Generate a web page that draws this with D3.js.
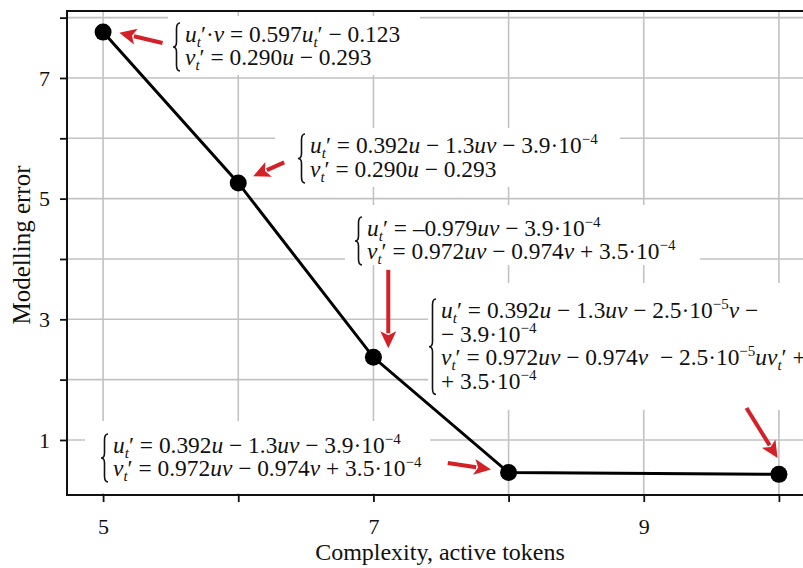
<!DOCTYPE html>
<html>
<head>
<meta charset="utf-8">
<script src="https://cdn.jsdelivr.net/npm/d3@7"></script>
<style>
  body { margin: 0; background: #fff; }
  svg { display: block; overflow: hidden; }
  text { font-family: "Liberation Serif", "Times New Roman", serif; fill: #111; }
</style>
</head>
<body>
<svg id="chart" width="803" height="568"></svg>
<script>
// data
var tokens = [5, 6, 7, 8, 10];
var errors = [7.76, 5.26, 2.37, 0.46, 0.43];
var xTicks = [5, 6, 7, 8, 9, 10];
var yTicks = [1, 2, 3, 4, 5, 6, 7, 8];
var xTickLabels = ["5", "", "7", "", "9", ""];
var yTickLabels = ["1", "", "3", "", "5", "", "7", ""];

// equations found for each complexity (markup: _{sub}, ^{sup})
var eqA = ["u_{t}′·v = 0.597u_{t}′ − 0.123", "v_{t}′ = 0.290u − 0.293"];
var eqB = ["u_{t}′ = 0.392u − 1.3uv − 3.9·10^{−4}", "v_{t}′ = 0.290u − 0.293"];
var eqC = ["u_{t}′ = –0.979uv − 3.9·10^{−4}", "v_{t}′ = 0.972uv − 0.974v + 3.5·10^{−4}"];
var eqD = ["u_{t}′ = 0.392u − 1.3uv − 2.5·10^{−5}v −", "− 3.9·10^{−4}",
           "v_{t}′ = 0.972uv − 0.974v  − 2.5·10^{−5}uv_{t}′ +", "+ 3.5·10^{−4}"];
var eqE = ["u_{t}′ = 0.392u − 1.3uv − 3.9·10^{−4}", "v_{t}′ = 0.972uv − 0.974v + 3.5·10^{−4}"];

// arrows, tail -> tip, in data units
var arrows = [
  {x0: 5.44, y0: 7.58, x1: 5.12, y1: 7.75},
  {x0: 6.34, y0: 5.60, x1: 6.11, y1: 5.37},
  {x0: 7.11, y0: 3.82, x1: 7.11, y1: 2.52},
  {x0: 7.55, y0: 0.62, x1: 7.87, y1: 0.51},
  {x0: 9.76, y0: 1.53, x1: 9.99, y1: 0.70}
];

// label layout (pixels): box, text start, first baseline, line step
var labels = [
  {eq: eqA, box: [168, 16, 252, 59], tx: 185, ty: 42, step: 23},
  {eq: eqB, box: [275, 128, 345, 59], tx: 310, ty: 153, step: 24},
  {eq: eqC, box: [345, 205, 355, 60], tx: 367, ty: 236, step: 23},
  {eq: eqD, box: [428, 283, 400, 127], tx: 441, ty: 318, step: 23.5},
  {eq: eqE, box: [85, 421, 345, 72], tx: 113, ty: 453, step: 23}
];

var svg = d3.select("#chart");
var margin = {top: 11, left: 67, bottom: 495, right: 815};

var x = d3.scaleLinear().domain([4.733, 10.267]).range([margin.left, margin.right]);
var y = d3.scaleLinear().domain([0.088, 8.11]).range([margin.bottom, margin.top]);

// grid
var grid = svg.append("g").attr("stroke", "#c2c2c2").attr("stroke-width", 1.6);
grid.selectAll("line.v").data(xTicks).enter().append("line")
  .attr("x1", function(d){ return x(d) }).attr("x2", function(d){ return x(d) })
  .attr("y1", margin.top).attr("y2", margin.bottom);
grid.selectAll("line.h").data(yTicks).enter().append("line")
  .attr("y1", function(d){ return y(d) }).attr("y2", function(d){ return y(d) })
  .attr("x1", margin.left).attr("x2", margin.right);

// white boxes behind the equations
svg.append("g").selectAll("rect").data(labels).enter().append("rect")
  .attr("x", function(d){ return d.box[0] }).attr("y", function(d){ return d.box[1] })
  .attr("width", function(d){ return d.box[2] }).attr("height", function(d){ return d.box[3] })
  .attr("fill", "#fff");

// axes
var xAxis = svg.append("g").attr("transform", "translate(0," + margin.bottom + ")")
  .call(d3.axisBottom(x).tickValues(xTicks).tickSize(7).tickPadding(16)
    .tickFormat(function(d, i){ return xTickLabels[i] }));
var yAxis = svg.append("g").attr("transform", "translate(" + margin.left + ",0)")
  .call(d3.axisLeft(y).tickValues(yTicks).tickSize(7).tickPadding(10)
    .tickFormat(function(d, i){ return yTickLabels[i] }));
[xAxis, yAxis].forEach(function(a){
  a.select(".domain").remove();
  a.selectAll(".tick line").attr("stroke", "#111").attr("stroke-width", 1.8);
  a.selectAll(".tick text").style("font-family", "Liberation Serif, serif")
    .style("font-size", "22px").attr("fill", "#111");
});

// frame
svg.append("rect")
  .attr("x", margin.left).attr("y", margin.top)
  .attr("width", margin.right - margin.left).attr("height", margin.bottom - margin.top)
  .attr("fill", "none").attr("stroke", "#111").attr("stroke-width", 2);

// axis titles
svg.append("text").attr("x", 440).attr("y", 560).attr("text-anchor", "middle")
  .style("font-size", "24px").text("Complexity, active tokens");
svg.append("text").attr("transform", "translate(30,245) rotate(-90)")
  .attr("text-anchor", "middle").style("font-size", "25px").text("Modelling error");

// series line and points
var pts = tokens.map(function(t, i){ return [t, errors[i]] });
svg.append("path").datum(pts)
  .attr("fill", "none").attr("stroke", "#000").attr("stroke-width", 3)
  .attr("d", d3.line().x(function(d){ return x(d[0]) }).y(function(d){ return y(d[1]) }));
svg.selectAll("circle.pt").data(pts).enter().append("circle")
  .attr("cx", function(d){ return x(d[0]) }).attr("cy", function(d){ return y(d[1]) })
  .attr("r", 8.5).attr("fill", "#000");

// red arrows
var red = "#d42027";
arrows.forEach(function(a){
  var x0 = x(a.x0), y0 = y(a.y0), x1 = x(a.x1), y1 = y(a.y1);
  var len = Math.hypot(x1 - x0, y1 - y0), ux = (x1 - x0) / len, uy = (y1 - y0) / len;
  var hl = 17, hw = 8;
  var bx = x1 - ux * hl, by = y1 - uy * hl;
  svg.append("line").attr("x1", x0).attr("y1", y0).attr("x2", bx + ux * 2).attr("y2", by + uy * 2)
    .attr("stroke", red).attr("stroke-width", 4);
  svg.append("path")
    .attr("d", "M" + x1 + "," + y1 + "L" + (bx - uy * hw) + "," + (by + ux * hw) +
      "L" + (bx + ux * 4) + "," + (by + uy * 4) + "L" + (bx + uy * hw) + "," + (by - ux * hw) + "Z")
    .attr("fill", red);
});

// equations
function bracePath(bx, y0, y1){
  var w = 7, m = (y0 + y1) / 2, c = bx + w / 2;
  return "M" + (bx + w) + "," + y0 + "Q" + c + "," + y0 + " " + c + "," + (y0 + 6) +
    "L" + c + "," + (m - 5) + "Q" + c + "," + m + " " + bx + "," + m +
    "Q" + c + "," + m + " " + c + "," + (m + 5) +
    "L" + c + "," + (y1 - 6) + "Q" + c + "," + y1 + " " + (bx + w) + "," + y1;
}

function writeLine(sel, str){
  var parts = str.split(/(_\{[^}]*\}|\^\{[^}]*\})/).filter(function(p){ return p.length });
  var shift = 0;
  parts.forEach(function(p){
    var target = 0, size = null, body = p;
    if (p[0] === "_") { target = 5; size = "15px"; body = p.slice(2, -1); }
    else if (p[0] === "^") { target = -9; size = "15px"; body = p.slice(2, -1); }
    body.split(/([a-z]+)/).filter(function(s){ return s.length }).forEach(function(s, k){
      var ts = sel.append("tspan").text(s);
      if (k === 0 && target !== shift) { ts.attr("dy", target - shift); shift = target; }
      if (size) ts.style("font-size", size);
      if (/^[a-z]+$/.test(s)) ts.style("font-style", "italic");
    });
  });
}

labels.forEach(function(l){
  var n = l.eq.length;
  svg.append("path").attr("d", bracePath(l.tx - 12, l.ty - 19, l.ty + (n - 1) * l.step + 6))
    .attr("fill", "none").attr("stroke", "#111").attr("stroke-width", 1.6);
  l.eq.forEach(function(line, i){
    var t = svg.append("text").attr("x", l.tx).attr("y", l.ty + i * l.step)
      .style("font-size", "23.4px").style("white-space", "pre");
    writeLine(t, line);
  });
});
</script>
</body>
</html>
